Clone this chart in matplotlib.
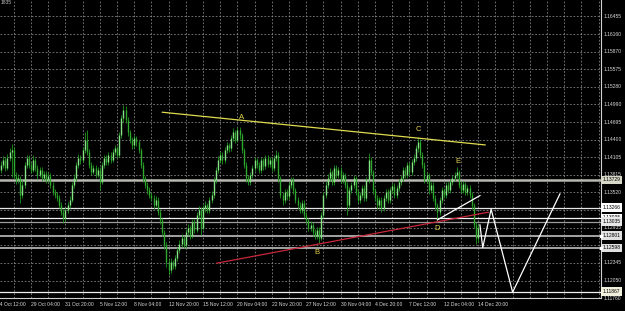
import matplotlib
matplotlib.use('Agg')
import matplotlib.pyplot as plt
from matplotlib.transforms import blended_transform_factory
import numpy as np

# H4 bars, index 0 = 24 Oct 12:00, one index per bar (weekends skipped)
first_bar = 2
first_open = 1.1390
closes = [
    1.1398, 1.1406, 1.1393, 1.1410, 1.1420, 1.1423, 1.1380, 1.1373, 1.1376, 1.1348,
    1.1365, 1.1398, 1.1410, 1.1398, 1.1390, 1.1406, 1.1393, 1.1381, 1.1390, 1.1376,
    1.1383, 1.1373, 1.1380, 1.1365, 1.1353, 1.1348, 1.1343, 1.1331, 1.1320, 1.1310,
    1.1323, 1.1331, 1.1340, 1.1365, 1.1376, 1.1398, 1.1410, 1.1406, 1.1423, 1.1440,
    1.1420, 1.1398, 1.1386, 1.1393, 1.1381, 1.1390, 1.1370, 1.1398, 1.1410, 1.1403,
    1.1415, 1.1406, 1.1420, 1.1426, 1.1415, 1.1448, 1.1476, 1.1490, 1.1473, 1.1453,
    1.1440, 1.1431, 1.1443, 1.1436, 1.1423, 1.1398, 1.1376, 1.1365, 1.1356, 1.1348,
    1.1343, 1.1331, 1.1340, 1.1320, 1.1306, 1.1286, 1.1265, 1.1236, 1.1223, 1.1236,
    1.1230, 1.1243, 1.1256, 1.1266, 1.1276, 1.1265, 1.1286, 1.1293, 1.1280, 1.1303,
    1.1290, 1.1315, 1.1323, 1.1293, 1.1326, 1.1331, 1.1323, 1.1340, 1.1348, 1.1373,
    1.1390, 1.1406, 1.1415, 1.1406, 1.1423, 1.1431, 1.1426, 1.1443, 1.1453, 1.1440,
    1.1456, 1.1448, 1.1423, 1.1398, 1.1376, 1.1370, 1.1381, 1.1393, 1.1406, 1.1398,
    1.1390, 1.1406, 1.1396, 1.1410, 1.1400, 1.1406, 1.1393, 1.1410, 1.1415, 1.1376,
    1.1348, 1.1340, 1.1353, 1.1346, 1.1365, 1.1373, 1.1356, 1.1340, 1.1331, 1.1323,
    1.1335, 1.1315, 1.1306, 1.1293, 1.1298, 1.1286, 1.1280, 1.1290, 1.1276, 1.1315,
    1.1348, 1.1365, 1.1376, 1.1386, 1.1370, 1.1393, 1.1381, 1.1390, 1.1373, 1.1381,
    1.1365, 1.1331, 1.1356, 1.1365, 1.1376, 1.1353, 1.1340, 1.1348, 1.1360, 1.1343,
    1.1373, 1.1406, 1.1386, 1.1356, 1.1343, 1.1331, 1.1340, 1.1326, 1.1343, 1.1353,
    1.1340, 1.1356, 1.1363, 1.1348, 1.1360, 1.1370, 1.1376, 1.1390, 1.1381, 1.1398,
    1.1386, 1.1403, 1.1410, 1.1426, 1.1436, 1.1415, 1.1398, 1.1373, 1.1381, 1.1356,
    1.1365, 1.1343, 1.1331, 1.1320, 1.1340, 1.1356, 1.1348, 1.1365, 1.1356, 1.1370,
    1.1376, 1.1381, 1.1386, 1.1365, 1.1356, 1.1366, 1.1353, 1.1360, 1.1348, 1.1331,
    1.1298, 1.1276, 1.1293,
]
highs = [
    1.1405, 1.1412, 1.1411, 1.1416, 1.1426, 1.1433, 1.1428, 1.1386, 1.1383, 1.1380,
    1.1372, 1.1403, 1.1415, 1.1414, 1.1402, 1.1415, 1.1410, 1.1397, 1.1395, 1.1394,
    1.1388, 1.1387, 1.1386, 1.1384, 1.1369, 1.1358, 1.1352, 1.1347, 1.1336, 1.1325,
    1.1328, 1.1336, 1.1346, 1.1370, 1.1382, 1.1403, 1.1416, 1.1414, 1.1428, 1.1453,
    1.1456, 1.1424, 1.1403, 1.1398, 1.1397, 1.1395, 1.1394, 1.1403, 1.1415, 1.1414,
    1.1420, 1.1419, 1.1425, 1.1431, 1.1430, 1.1453, 1.1481, 1.1498, 1.1496, 1.1478,
    1.1457, 1.1445, 1.1448, 1.1447, 1.1440, 1.1427, 1.1402, 1.1380, 1.1370, 1.1361,
    1.1353, 1.1347, 1.1346, 1.1344, 1.1324, 1.1310, 1.1290, 1.1270, 1.1241, 1.1242,
    1.1240, 1.1248, 1.1261, 1.1272, 1.1282, 1.1280, 1.1291, 1.1299, 1.1297, 1.1308,
    1.1307, 1.1320, 1.1329, 1.1327, 1.1331, 1.1337, 1.1335, 1.1345, 1.1354, 1.1378,
    1.1395, 1.1412, 1.1421, 1.1419, 1.1428, 1.1437, 1.1435, 1.1448, 1.1459, 1.1457,
    1.1461, 1.1461, 1.1452, 1.1427, 1.1402, 1.1381, 1.1386, 1.1398, 1.1411, 1.1410,
    1.1403, 1.1411, 1.1410, 1.1415, 1.1414, 1.1411, 1.1410, 1.1415, 1.1423, 1.1419,
    1.1380, 1.1352, 1.1358, 1.1357, 1.1370, 1.1378, 1.1377, 1.1360, 1.1345, 1.1336,
    1.1340, 1.1339, 1.1320, 1.1310, 1.1304, 1.1302, 1.1291, 1.1295, 1.1294, 1.1320,
    1.1353, 1.1371, 1.1382, 1.1392, 1.1390, 1.1398, 1.1397, 1.1395, 1.1394, 1.1386,
    1.1385, 1.1369, 1.1361, 1.1370, 1.1381, 1.1380, 1.1357, 1.1353, 1.1365, 1.1364,
    1.1378, 1.1418, 1.1411, 1.1390, 1.1360, 1.1347, 1.1345, 1.1344, 1.1348, 1.1358,
    1.1357, 1.1361, 1.1368, 1.1367, 1.1365, 1.1375, 1.1381, 1.1395, 1.1394, 1.1403,
    1.1402, 1.1408, 1.1416, 1.1431, 1.1445, 1.1441, 1.1419, 1.1402, 1.1386, 1.1385,
    1.1370, 1.1369, 1.1347, 1.1335, 1.1345, 1.1361, 1.1360, 1.1370, 1.1369, 1.1375,
    1.1381, 1.1386, 1.1395, 1.1390, 1.1370, 1.1371, 1.1370, 1.1365, 1.1364, 1.1352,
    1.1335, 1.1302, 1.1300,
]
lows = [
    1.1384, 1.1392, 1.1388, 1.1389, 1.1405, 1.1378, 1.1374, 1.1366, 1.1368, 1.1335,
    1.1342, 1.1360, 1.1393, 1.1392, 1.1384, 1.1386, 1.1388, 1.1375, 1.1377, 1.1371,
    1.1372, 1.1368, 1.1369, 1.1360, 1.1348, 1.1343, 1.1337, 1.1326, 1.1314, 1.1301,
    1.1305, 1.1318, 1.1326, 1.1336, 1.1360, 1.1371, 1.1393, 1.1400, 1.1402, 1.1418,
    1.1415, 1.1393, 1.1381, 1.1382, 1.1376, 1.1377, 1.1356, 1.1366, 1.1393, 1.1397,
    1.1398, 1.1401, 1.1402, 1.1414, 1.1410, 1.1411, 1.1443, 1.1470, 1.1468, 1.1447,
    1.1434, 1.1425, 1.1427, 1.1430, 1.1417, 1.1392, 1.1370, 1.1360, 1.1350, 1.1342,
    1.1337, 1.1325, 1.1327, 1.1314, 1.1300, 1.1280, 1.1258, 1.1228, 1.1215, 1.1218,
    1.1224, 1.1225, 1.1238, 1.1251, 1.1261, 1.1259, 1.1260, 1.1281, 1.1274, 1.1276,
    1.1285, 1.1286, 1.1310, 1.1281, 1.1289, 1.1320, 1.1318, 1.1318, 1.1335, 1.1343,
    1.1368, 1.1385, 1.1401, 1.1400, 1.1401, 1.1418, 1.1420, 1.1421, 1.1438, 1.1435,
    1.1436, 1.1442, 1.1417, 1.1392, 1.1370, 1.1365, 1.1365, 1.1376, 1.1388, 1.1392,
    1.1384, 1.1385, 1.1390, 1.1391, 1.1395, 1.1395, 1.1388, 1.1388, 1.1405, 1.1370,
    1.1342, 1.1331, 1.1335, 1.1340, 1.1341, 1.1360, 1.1350, 1.1334, 1.1325, 1.1317,
    1.1318, 1.1309, 1.1300, 1.1287, 1.1288, 1.1280, 1.1274, 1.1274, 1.1268, 1.1272,
    1.1310, 1.1343, 1.1360, 1.1371, 1.1364, 1.1365, 1.1376, 1.1376, 1.1367, 1.1368,
    1.1360, 1.1315, 1.1326, 1.1351, 1.1360, 1.1348, 1.1334, 1.1335, 1.1343, 1.1338,
    1.1338, 1.1368, 1.1381, 1.1350, 1.1337, 1.1325, 1.1326, 1.1320, 1.1321, 1.1338,
    1.1335, 1.1335, 1.1351, 1.1343, 1.1343, 1.1355, 1.1365, 1.1371, 1.1376, 1.1376,
    1.1381, 1.1381, 1.1398, 1.1405, 1.1420, 1.1410, 1.1392, 1.1367, 1.1368, 1.1350,
    1.1351, 1.1337, 1.1325, 1.1306, 1.1315, 1.1335, 1.1343, 1.1343, 1.1351, 1.1351,
    1.1365, 1.1371, 1.1376, 1.1360, 1.1351, 1.1351, 1.1348, 1.1348, 1.1343, 1.1325,
    1.1292, 1.1266, 1.1270,
]

date_labels = ["24 Oct 12:00", "29 Oct 04:00", "31 Oct 20:00", "5 Nov 12:00",
               "8 Nov 04:00", "12 Nov 20:00", "15 Nov 12:00", "20 Nov 04:00",
               "22 Nov 20:00", "27 Nov 12:00", "30 Nov 04:00", "4 Dec 20:00",
               "7 Dec 12:00", "12 Dec 04:00", "14 Dec 20:00"]
bars_per_label = 16

price_ticks = [1.16455, 1.16160, 1.15870, 1.15575, 1.15280, 1.14990, 1.14695,
               1.14400, 1.14105, 1.13815, 1.13520, 1.13225, 1.12935, 1.12640,
               1.12345, 1.12050, 1.11760]

# horizontal price lines drawn on the chart
level_prices = [1.13729, 1.13266, 1.13095, 1.13035, 1.12801, 1.12598, 1.11867]

# hand drawn objects: (bar, price)
resist_bars, resist_prices = [77.1, 227.2], [1.14858, 1.14313]
support_bars, support_prices = [102.4, 228.7], [1.12341, 1.13191]
wedge_bars, wedge_prices = [205.0, 224.8], [1.13063, 1.13468]
path_bars = [224.8, 226.1, 230.0, 240.0, 262.0]
path_prices = [1.12979, 1.12601, 1.13241, 1.11857, 1.13496]
point_names = ['A', 'B', 'C', 'D', 'E']
point_bars = [113.7, 149.0, 196.0, 204.8, 214.6]
point_prices = [1.14763, 1.12512, 1.14563, 1.12913, 1.14029]

W, H = 625, 311
fig = plt.figure(figsize=(W / 100, H / 100), dpi=100, facecolor='black')
ax = fig.add_axes([0, 13 / H, 601 / W, 298 / H])
ax.set_facecolor('black')
ax.set_xlim(1.58, 281.1)
ax.set_ylim(1.1176, 1.1673)
ax.set_xticks([])
ax.set_yticks([])
for side in ['top', 'left']:
    ax.spines[side].set_visible(False)
for side in ['right', 'bottom']:
    ax.spines[side].set_color('#d0d0d0')
    ax.spines[side].set_linewidth(0.8)

# grid
grid_style = dict(color='#9a9a9a', lw=0.5, ls=(0, (2.5, 2.5)), zorder=0)
for p in price_ticks:
    ax.axhline(p, **grid_style)
for b in range(8, 282, 8):
    ax.axvline(b, **grid_style)

# price levels
level_colors = ['#b8b8b0', '#e6e6e6', '#f2f2f2', '#9c9c9c', '#a4a4a4', '#a4a4a4', '#f0f0f0']
level_widths = [1.8, 0.9, 0.9, 0.9, 1.4, 1.4, 0.9]
for p, c, w in zip(level_prices, level_colors, level_widths):
    ax.axhline(p, color=c, lw=w, zorder=1)

# candles
bars = np.arange(first_bar, first_bar + len(closes))
c = np.array(closes)
o = np.array([first_open] + closes[:-1])
ax.vlines(bars, lows, highs, color='#1f9a1f', lw=0.6, zorder=2)
up = c >= o
ax.vlines(bars[up], o[up], c[up], color='#86e486', lw=1.0, zorder=3)
ax.vlines(bars[~up], o[~up], c[~up], color='#2faa2f', lw=1.0, zorder=3)

# drawings
ax.plot(resist_bars, resist_prices, color='#e0dc50', lw=0.9, zorder=4)
ax.plot(support_bars, support_prices, color='#c8283a', lw=0.9, zorder=4)
ax.plot(wedge_bars, wedge_prices, color='white', lw=0.9, zorder=4)
ax.plot(path_bars, path_prices, color='white', lw=0.9, zorder=4)
for name, b, p in zip(point_names, point_bars, point_prices):
    ax.text(b, p, name, color='#e8d850', fontsize=5.5, ha='center', va='center',
            family='Liberation Sans', zorder=5)

# right price scale; labels hidden where a price line label sits on top
ty = blended_transform_factory(ax.transAxes, ax.transData)
for p in price_ticks:
    if min(abs(p - q) for q in level_prices) < 0.0005:
        continue
    ax.text(1 + 3 / 601, p, f"{p:.5f}", transform=ty, color='#d8d8d8', fontsize=3.6,
            ha='left', va='center', family='Liberation Sans', clip_on=False)
box_colors = ['#d8d8c8', 'white', 'white', '#e8e8e8', '#e0e0e0', '#e0e0e0', '#f0f0dc']
for p, bc in zip(level_prices, box_colors):
    ax.text(1 + 1.5 / 601, p, f"{p:.5f}", transform=ty, color='black', fontsize=3.6,
            ha='left', va='center', family='Liberation Sans', clip_on=False, zorder=6,
            bbox=dict(boxstyle='square,pad=0.35', facecolor=bc, edgecolor='none'))
for p in level_prices[4:6]:
    ax.plot([1.0], [p], transform=ty, marker='s', ms=2, color='white', clip_on=False, zorder=7)

# time scale
tx = blended_transform_factory(ax.transData, ax.transAxes)
for i, lab in enumerate(date_labels):
    ax.text(i * bars_per_label, -7 / 298, lab, transform=tx, color='#d8d8d8', fontsize=3.6,
            ha='left', va='center', family='Liberation Sans', clip_on=False)

fig.text(1 / W, 1, "1835", color='#c0c0c0', fontsize=3.6, ha='left', va='top',
         family='Liberation Sans')

fig.savefig('out.png', dpi=100, facecolor='black')
